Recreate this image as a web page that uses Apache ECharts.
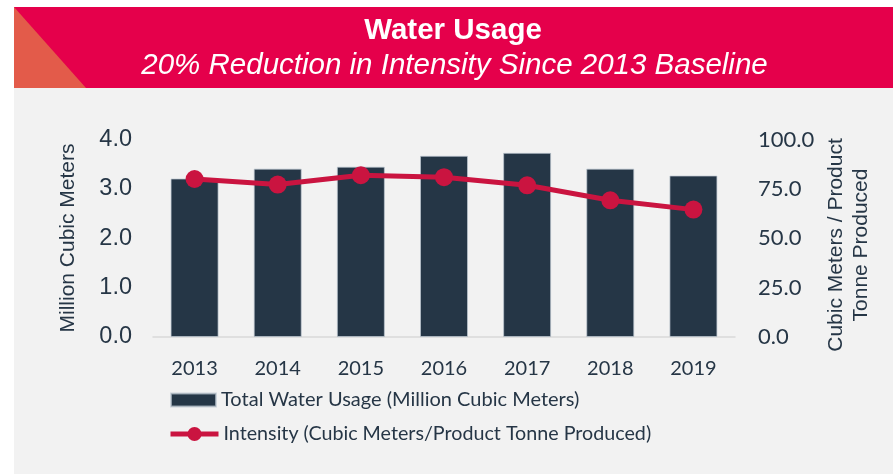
<!DOCTYPE html>
<html>
<head>
<meta charset="utf-8">
<script src="https://cdn.jsdelivr.net/npm/echarts@6/dist/echarts.min.js"></script>
<style>
html,body{margin:0;padding:0;background:#fff;}
#chart{width:893px;height:474px;}
</style>
</head>
<body>
<div id="chart"></div>
<script>
var years = ['2013', '2014', '2015', '2016', '2017', '2018', '2019'];
var totalWater = [3.21, 3.41, 3.45, 3.67, 3.73, 3.41, 3.27];
var intensity = [80.0, 77.2, 81.9, 80.9, 76.8, 69.2, 64.5];
var leftTicks = [0, 4, 1];
var rightTicks = [0, 100, 25];
var titleText = 'Water Usage';
var subtitleText = '20% Reduction in Intensity Since 2013 Baseline';
var barName = 'Total Water Usage (Million Cubic Meters)';
var lineName = 'Intensity (Cubic Meters/Product Tonne Produced)';
var leftAxisName = 'Million Cubic Meters';
var rightAxisName = ['Cubic Meters / Product', 'Tonne Produced'];

var TEXT = '#263646';
var chart = echarts.init(document.getElementById('chart'), null, {renderer: 'canvas'});
var option = {
  backgroundColor: '#ffffff',
  animation: false,
  graphic: [
    {type: 'rect', z: -10, shape: {x: 14, y: 88, width: 879, height: 386}, style: {fill: '#F2F2F2'}},
    {type: 'rect', z: -10, shape: {x: 14, y: 7, width: 879, height: 81}, style: {fill: '#E5004B'}},
    {type: 'polygon', z: -9, shape: {points: [[14, 7], [14, 88], [86, 88]]}, style: {fill: '#E35B4A'}},
    {type: 'text', x: 453, y: 30.5, style: {text: titleText, fill: '#fff', font: 'bold 29.5px "Liberation Sans", Arial, sans-serif', align: 'center', verticalAlign: 'middle'}},
    {type: 'text', x: 454.5, y: 66, style: {text: subtitleText, fill: '#fff', font: 'italic 29.5px "Liberation Sans", Arial, sans-serif', align: 'center', verticalAlign: 'middle'}},
    {type: 'text', x: 68, y: 238, rotation: Math.PI / 2, style: {text: leftAxisName, fill: TEXT, font: '21px "Liberation Sans", Arial, sans-serif', align: 'center', verticalAlign: 'middle'}},
    {type: 'text', x: 836, y: 245, rotation: Math.PI / 2, style: {text: rightAxisName[0], fill: TEXT, font: '21px "Liberation Sans", Arial, sans-serif', align: 'center', verticalAlign: 'middle'}},
    {type: 'text', x: 861, y: 245, rotation: Math.PI / 2, style: {text: rightAxisName[1], fill: TEXT, font: '21px "Liberation Sans", Arial, sans-serif', align: 'center', verticalAlign: 'middle'}}
  ],
  grid: {left: 153, right: 158, top: 139.5, bottom: 137, containLabel: false},
  legend: [
    {
      data: [{name: barName, icon: 'rect'}],
      orient: 'vertical', left: 170, top: 390, padding: 0,
      itemWidth: 45, itemHeight: 13,
      textStyle: {color: TEXT, fontFamily: 'Lato', fontSize: 20}
    },
    {
      data: [{name: lineName}],
      orient: 'vertical', left: 168, top: 424, padding: 0,
      itemWidth: 48, itemHeight: 17.5,
      lineStyle: {width: 5},
      textStyle: {color: TEXT, fontFamily: 'Lato', fontSize: 19.7}
    }
  ],
  xAxis: {
    type: 'category', data: years,
    axisLine: {show: true, lineStyle: {color: '#D9D9D9', width: 1.5}},
    axisTick: {show: false},
    axisLabel: {color: TEXT, fontFamily: 'Lato', fontSize: 20, margin: 22}
  },
  yAxis: [
    {
      type: 'value', min: leftTicks[0], max: leftTicks[1], interval: leftTicks[2],
      splitLine: {show: false}, axisLine: {show: false}, axisTick: {show: false},
      axisLabel: {color: TEXT, fontFamily: '"Liberation Sans", Arial', fontSize: 23.5, margin: 21,
        formatter: function (v) { return v.toFixed(1); }}
    },
    {
      type: 'value', min: rightTicks[0], max: rightTicks[1], interval: rightTicks[2],
      splitLine: {show: false}, axisLine: {show: false}, axisTick: {show: false},
      axisLabel: {color: TEXT, fontFamily: 'Lato', fontSize: 22, margin: 23,
        formatter: function (v) { return v.toFixed(1); }}
    }
  ],
  series: [
    {
      name: barName, type: 'bar', data: totalWater, yAxisIndex: 0,
      barWidth: 48,
      itemStyle: {color: '#253646', borderColor: 'rgba(190,200,210,0.7)', borderWidth: 1}
    },
    {
      name: lineName, type: 'line', data: intensity, yAxisIndex: 1,
      symbol: 'circle', symbolSize: 18, z: 5,
      lineStyle: {color: '#CA1440', width: 5},
      itemStyle: {color: '#CA1440'}
    }
  ]
};
chart.setOption(option);
</script>
</body>
</html>
